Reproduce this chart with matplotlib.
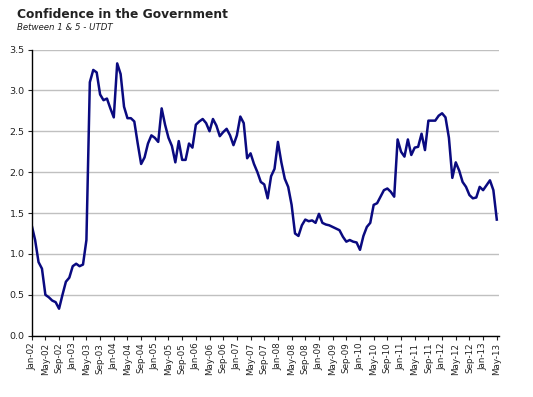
import numpy as np
import matplotlib.pyplot as plt

# monthly index, Jan-02 .. May-13
months = ['Jan', 'Feb', 'Mar', 'Apr', 'May', 'Jun',
          'Jul', 'Aug', 'Sep', 'Oct', 'Nov', 'Dec']
start_year = 2002

confidence = [
    1.35, 1.17, 0.90, 0.82, 0.50, 0.47, 0.43, 0.41, 0.33, 0.50, 0.66, 0.71,  # 2002
    0.85, 0.88, 0.85, 0.87, 1.17, 3.10, 3.25, 3.22, 2.95, 2.88, 2.90, 2.78,  # 2003
    2.67, 3.33, 3.20, 2.80, 2.66, 2.66, 2.62, 2.35, 2.10, 2.18, 2.35, 2.45,  # 2004
    2.42, 2.37, 2.78, 2.58, 2.42, 2.32, 2.12, 2.38, 2.15, 2.15, 2.35, 2.30,  # 2005
    2.58, 2.62, 2.65, 2.60, 2.50, 2.65, 2.57, 2.44, 2.49, 2.53, 2.45, 2.33,  # 2006
    2.45, 2.68, 2.60, 2.17, 2.23, 2.10, 2.00, 1.88, 1.85, 1.68, 1.95, 2.04,  # 2007
    2.37, 2.12, 1.92, 1.82, 1.60, 1.25, 1.22, 1.35, 1.42, 1.40, 1.41, 1.38,  # 2008
    1.49, 1.38, 1.36, 1.35, 1.33, 1.31, 1.29, 1.21, 1.15, 1.17, 1.15, 1.14,  # 2009
    1.05, 1.22, 1.33, 1.38, 1.60, 1.62, 1.70, 1.78, 1.80, 1.76, 1.70, 2.40,  # 2010
    2.25, 2.19, 2.40, 2.21, 2.30, 2.31, 2.47, 2.27, 2.63, 2.63, 2.63, 2.69,  # 2011
    2.72, 2.67, 2.42, 1.93, 2.12, 2.02, 1.88, 1.82, 1.72, 1.68, 1.69, 1.82,  # 2012
    1.78, 1.84, 1.90, 1.78, 1.42,                                            # 2013
]

x = np.arange(len(confidence))
labels = []
for i in x[::4]:
    labels.append('%s-%02d' % (months[i % 12], (start_year + i // 12) % 100))

fig = plt.figure(figsize=(5.33, 3.97), dpi=100)
ax = fig.add_axes([31.7 / 533, 1 - 335.7 / 397, 466.8 / 533, 286.2 / 397])

ax.plot(x, confidence, color='#0a0a80', linewidth=1.8, solid_joinstyle='round')

ax.set_xlim(0, 136.5)
ax.set_ylim(0, 3.5)
ax.set_yticks(np.arange(0, 3.51, 0.5))
ax.set_yticklabels(['%.1f' % v for v in np.arange(0, 3.51, 0.5)])
ax.set_xticks(x[::4])
ax.set_xticklabels(labels, rotation=90)

ax.grid(axis='y', color='#c0c0c0', linewidth=1.0)
ax.set_axisbelow(True)
for s in ['top', 'right']:
    ax.spines[s].set_visible(False)
ax.spines['left'].set_linewidth(1.0)
ax.spines['bottom'].set_linewidth(1.0)
ax.tick_params(axis='x', labelsize=6.3, length=3, width=0.8, pad=2, colors='#222222')
ax.tick_params(axis='y', labelsize=6.8, length=3, width=0.8, pad=2, colors='#222222')

fig.text(17 / 533, 1 - 14 / 397, 'Confidence in the Government', fontsize=8.8,
         fontweight='bold', color='#222222', va='center')
fig.text(17 / 533, 1 - 28 / 397, 'Between 1 & 5 - UTDT', fontsize=6.2,
         style='italic', color='#222222', va='center')

fig.savefig('out.png', dpi=100)
